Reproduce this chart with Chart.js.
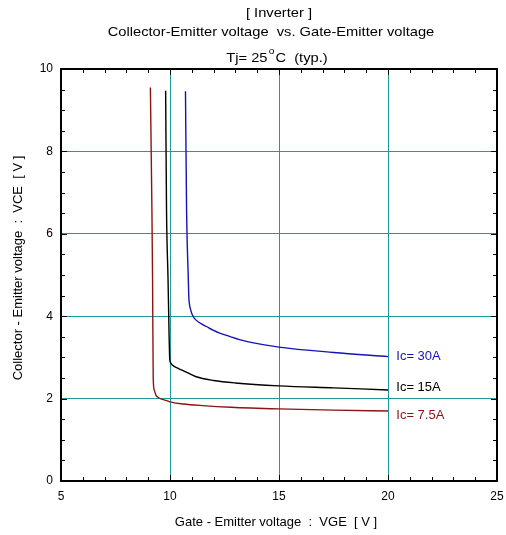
<!DOCTYPE html>
<html lang="en">
<head>
    <meta charset="UTF-8">
    <title>Collector-Emitter voltage vs. Gate-Emitter voltage</title>
    <script src="https://cdn.jsdelivr.net/npm/chart.js"></script>
    <style>
        html, body { margin: 0; padding: 0; background: #fff; }
        #wrap { width: 506px; height: 535px; position: relative; }
    </style>
</head>
<body>
<div id="wrap"><canvas id="myChart" width="506" height="535"></canvas></div>
<script>
    // curves
    const vge75 = [9.10, 9.17, 9.20, 9.23, 9.28, 9.36, 9.48, 9.65, 9.85, 10.0, 10.6, 11.5, 12.8, 15.0, 17.5, 20.0];
    const vce75 = [9.55, 6.6, 4.9, 2.5, 2.2, 2.08, 2.02, 1.98, 1.95, 1.92, 1.87, 1.83, 1.79, 1.75, 1.72, 1.70];

    const vge15 = [9.80, 9.84, 9.91, 9.96, 9.99, 10.03, 10.09, 10.3, 10.6, 11.2, 12.0, 13.0, 15.0, 17.5, 20.0];
    const vce15 = [9.47, 6.6, 4.9, 3.5, 2.94, 2.87, 2.82, 2.75, 2.68, 2.53, 2.44, 2.38, 2.31, 2.26, 2.21];

    const vge30 = [10.71, 10.76, 10.84, 10.86, 10.89, 10.94, 10.99, 11.06, 11.13, 11.36, 11.67, 11.97, 12.28, 12.73, 13.19, 13.65, 15.0, 17.5, 20.0];
    const vce30 = [9.46, 6.6, 4.9, 4.5, 4.3, 4.17, 4.08, 4.0, 3.94, 3.84, 3.75, 3.66, 3.59, 3.51, 3.43, 3.37, 3.25, 3.12, 3.02];

    const seriesNames = ['Ic= 30A', 'Ic= 15A', 'Ic= 7.5A'];
    const seriesColors = ['#1414b4', '#000000', '#8c1414'];
    const labelX = 20.38;
    const labelY = [3.02, 2.26, 1.58];

    const titleLines = ['[ Inverter ]', 'Collector-Emitter voltage  vs. Gate-Emitter voltage'];
    const xTitle = 'Gate - Emitter voltage  :  VGE  [ V ]';
    const yTitle = 'Collector - Emitter voltage  :  VCE  [ V ]';

    const FONT = '"Liberation Sans", Arial, sans-serif';
    const GRID = '#229999';

    function pts(xs, ys) {
        return xs.map((x, i) => ({ x: x, y: ys[i] }));
    }

    // the heading text in the sheet is a bit wider than plain Arial
    function wideText(c, text, cx, y, size, sx) {
        c.save();
        c.font = size + 'px ' + FONT;
        c.textAlign = 'center';
        c.translate(cx, y);
        c.scale(sx, 1);
        c.fillText(text, 0, 0);
        c.restore();
    }

    // frame, inward ticks, titles, curve labels
    const decor = {
        id: 'decor',
        afterDraw(chart) {
            const c = chart.ctx;
            const a = chart.chartArea;
            const xs = chart.scales.x, ys = chart.scales.y;
            c.save();
            c.strokeStyle = '#000';
            c.lineWidth = 1;
            c.beginPath();
            for (let v = 6; v < 25; v++) {
                const px = Math.round(xs.getPixelForValue(v)) + 0.5;
                const len = v % 5 === 0 ? 6 : 4;
                c.moveTo(px, a.bottom); c.lineTo(px, a.bottom - len);
                c.moveTo(px, a.top); c.lineTo(px, a.top + len);
            }
            for (let v = 0.5; v < 10; v += 0.5) {
                const py = Math.round(ys.getPixelForValue(v)) + 0.5;
                const len = v % 2 === 0 ? 6 : 4;
                c.moveTo(a.left, py); c.lineTo(a.left + len, py);
                c.moveTo(a.right, py); c.lineTo(a.right - len, py);
            }
            c.stroke();
            c.lineWidth = 2;
            c.strokeRect(a.left, a.top, a.right - a.left, a.bottom - a.top);

            c.fillStyle = '#000';
            c.textBaseline = 'middle';
            wideText(c, titleLines[0], 279, 13, 13, 1.13);
            wideText(c, titleLines[1], 271, 32, 13, 1.13);

            // Tj= 25 °C (typ.)
            c.save();
            c.translate(277, 58);
            c.scale(1.13, 1);
            const p1 = 'Tj= 25', p2 = 'o', p3 = 'C  (typ.)';
            c.font = '13px ' + FONT;
            const w1 = c.measureText(p1).width;
            const w3 = c.measureText(p3).width;
            c.font = '9px ' + FONT;
            const w2 = c.measureText(p2).width + 2;
            const sx = -(w1 + w2 + w3) / 2;
            c.textAlign = 'left';
            c.font = '13px ' + FONT;
            c.fillText(p1, sx, 0);
            c.font = '9px ' + FONT;
            c.fillText(p2, sx + w1 + 1, -6);
            c.font = '13px ' + FONT;
            c.fillText(p3, sx + w1 + w2, 0);
            c.restore();

            c.font = '13px ' + FONT;
            c.textAlign = 'center';
            c.fillText(xTitle, 276, 522);
            c.save();
            c.translate(18, 268);
            c.rotate(-Math.PI / 2);
            c.fillText(yTitle, 0, 0);
            c.restore();

            c.textAlign = 'left';
            c.font = '13px ' + FONT;
            seriesNames.forEach((n, i) => {
                c.fillStyle = seriesColors[i];
                c.fillText(n, xs.getPixelForValue(labelX), ys.getPixelForValue(labelY[i]));
            });
            c.restore();
        }
    };

    const ctx = document.getElementById('myChart').getContext('2d');
    const myChart = new Chart(ctx, {
        type: 'line',
        data: {
            datasets: [
                { label: seriesNames[0], data: pts(vge30, vce30), borderColor: seriesColors[0] },
                { label: seriesNames[1], data: pts(vge15, vce15), borderColor: seriesColors[1] },
                { label: seriesNames[2], data: pts(vge75, vce75), borderColor: seriesColors[2] }
            ]
        },
        options: {
            responsive: false,
            animation: false,
            events: [],
            layout: { padding: { top: 69, right: 9, left: 0, bottom: 0 } },
            elements: {
                point: { radius: 0 },
                line: { borderWidth: 1.4, cubicInterpolationMode: 'monotone', fill: false }
            },
            plugins: { legend: { display: false }, tooltip: { enabled: false } },
            scales: {
                x: {
                    type: 'linear',
                    min: 5, max: 25,
                    afterFit(s) { s.height = 54; s.paddingLeft = 0; s.paddingRight = 0; },
                    ticks: { stepSize: 5, color: '#000', padding: 8, font: { family: FONT, size: 12 } },
                    grid: {
                        drawTicks: false,
                        color: c => (c.tick.value === 5 || c.tick.value === 25) ? 'rgba(0,0,0,0)' : GRID,
                        lineWidth: 1
                    },
                    border: { display: false }
                },
                y: {
                    min: 0, max: 10,
                    afterFit(s) { s.width = 61; },
                    ticks: { stepSize: 2, color: '#000', padding: 8, font: { family: FONT, size: 12 } },
                    grid: {
                        drawTicks: false,
                        color: c => (c.tick.value === 0 || c.tick.value === 10) ? 'rgba(0,0,0,0)' : GRID,
                        lineWidth: 1
                    },
                    border: { display: false }
                }
            }
        },
        plugins: [decor]
    });
</script>
</body>
</html>
